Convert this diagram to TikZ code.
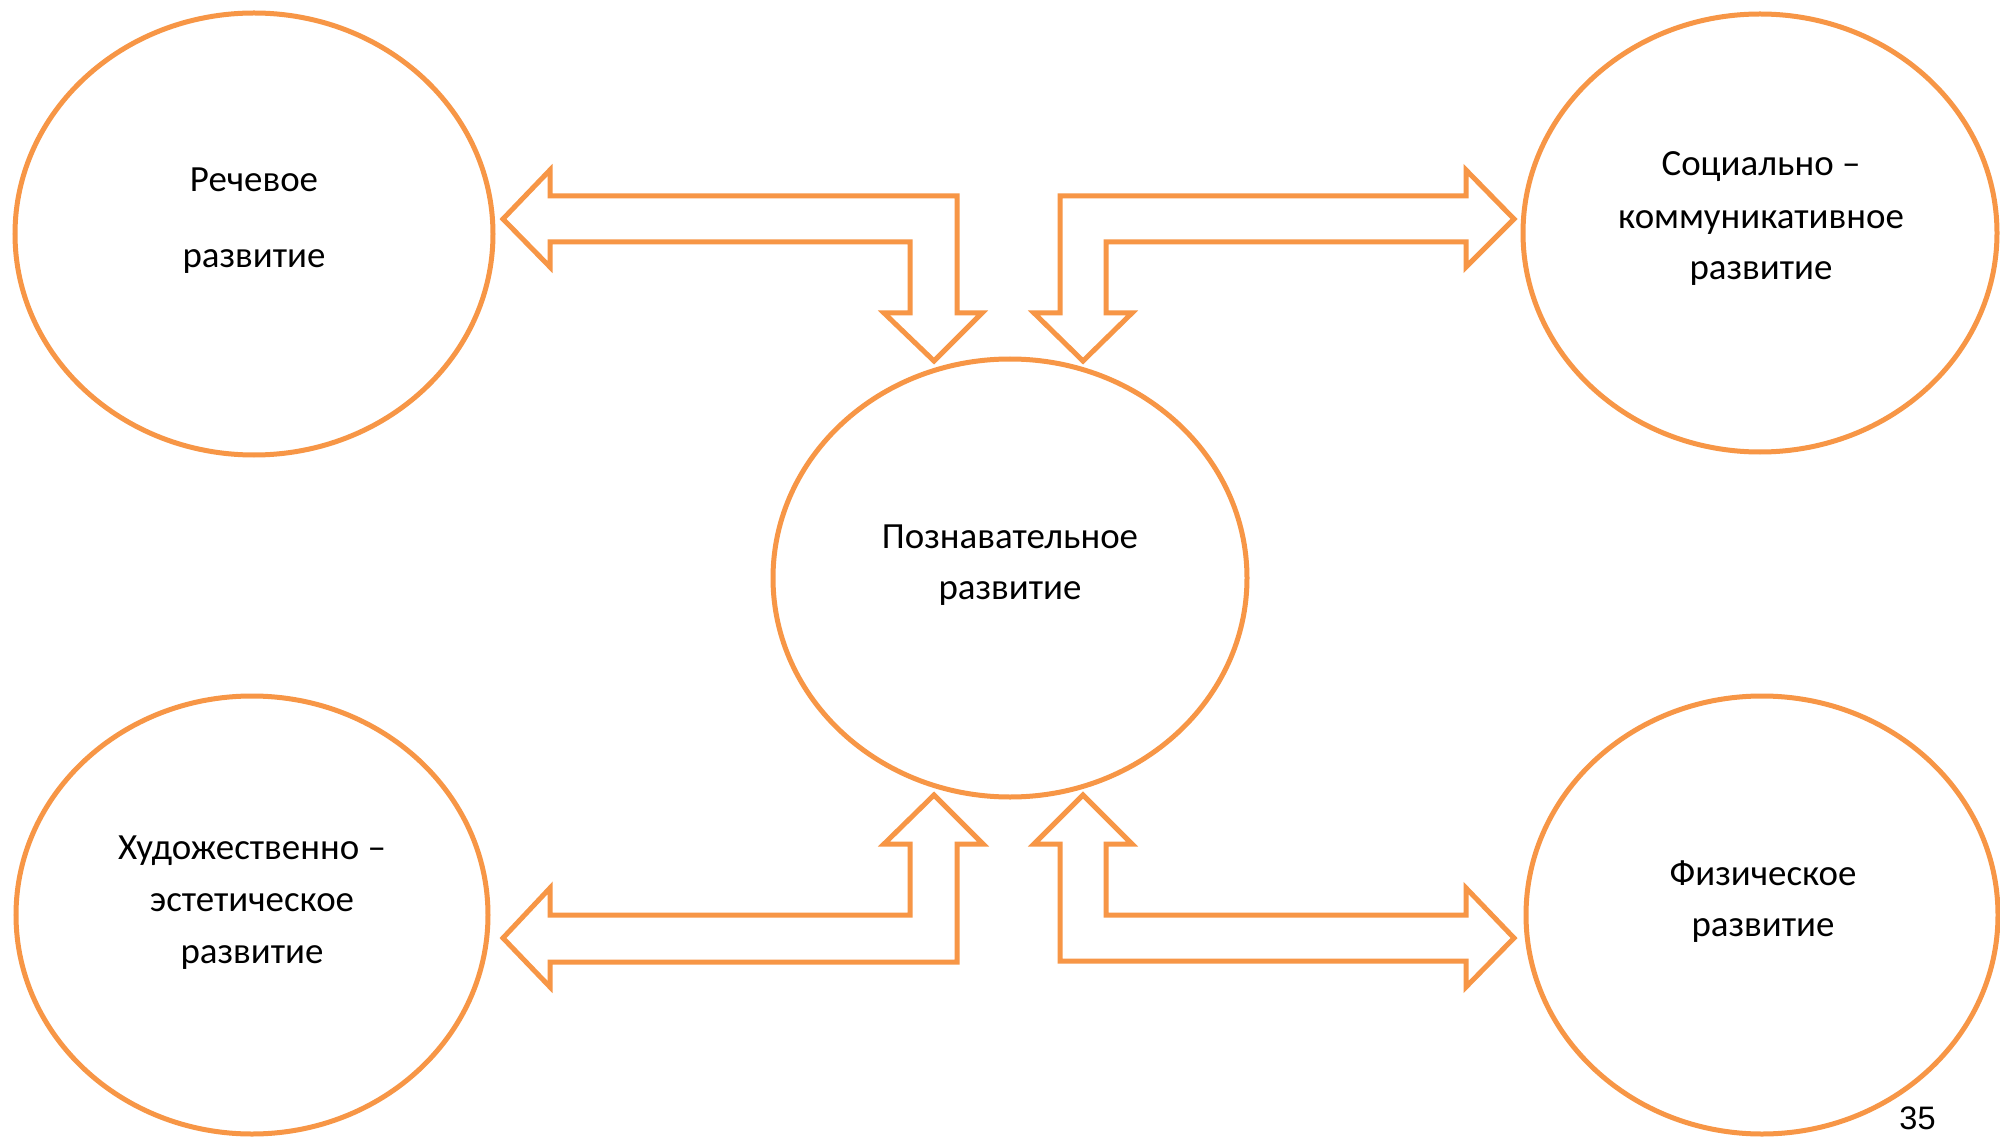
\documentclass[tikz,border=0pt]{standalone}
\usepackage{fontspec}
\setmainfont{Carlito}
\newfontfamily\numfont{Liberation Sans}
\usetikzlibrary{shapes.geometric}
\definecolor{accorange}{HTML}{F79646}
\begin{document}
\begin{tikzpicture}[x=0.4pt,y=-0.4pt,
  oval/.style={draw=accorange, line width=2pt, ellipse, inner sep=0pt, outer sep=0pt},
  blockarrow/.style={draw=accorange, line width=2pt, line join=miter, fill=white},
  lbl/.style={anchor=base, inner sep=0pt, font=\fontsize{14.76}{17}\selectfont}]
\useasboundingbox (0,0) rectangle (2000,1138);
\fill[white] (0,0) rectangle (2000,1138);
% ovals
\node[oval, minimum width=478*0.4pt, minimum height=442*0.4pt] (rech) at (254,234) {};
\node[oval, minimum width=474*0.4pt, minimum height=438*0.4pt] (soc) at (1760,233) {};
\node[oval, minimum width=474*0.4pt, minimum height=438*0.4pt] (pozn) at (1010,578) {};
\node[oval, minimum width=472*0.4pt, minimum height=438*0.4pt] (hud) at (252,915) {};
\node[oval, minimum width=472*0.4pt, minimum height=438*0.4pt] (fiz) at (1762,915) {};
% labels
\node[lbl] (rech1) at (254,191.7) {Речевое};
\node[lbl] (rech2) at (254,268) {развитие};
\node[lbl] (soc1) at (1761,176) {Социально –};
\node[lbl] (soc2) at (1761,228.3) {коммуникативное};
\node[lbl] (soc3) at (1761,279.3) {развитие};
\node[lbl] (pozn1) at (1010,548.3) {Познавательное};
\node[lbl] (pozn2) at (1010,599.3) {развитие};
\node[lbl] (hud1) at (252,859.3) {Художественно –};
\node[lbl] (hud2) at (252,911.7) {эстетическое};
\node[lbl] (hud3) at (252,963.3) {развитие};
\node[lbl] (fiz1) at (1763,885) {Физическое};
\node[lbl] (fiz2) at (1763,936.7) {развитие};
% block arrows
\draw[blockarrow] (550,196) -- (957,196) -- (957,313) -- (982,313) -- (934,361) -- (884,313)
  -- (910,313) -- (910,242) -- (550,242) -- (550,267) -- (503,219) -- (550,170) -- cycle;
\draw[blockarrow] (1060,196) -- (1466,196) -- (1466,170) -- (1514,219) -- (1466,267) -- (1466,242)
  -- (1106,242) -- (1106,313) -- (1132,313) -- (1083,361) -- (1034,313) -- (1060,313) -- cycle;
\draw[blockarrow] (934,795) -- (983,844) -- (957,844) -- (957,962) -- (550,962) -- (550,987)
  -- (503,938) -- (550,888) -- (550,915) -- (910,915) -- (910,844) -- (884,844) -- cycle;
\draw[blockarrow] (1083,795) -- (1132,844) -- (1106,844) -- (1106,915) -- (1466,915) -- (1466,888)
  -- (1514,938) -- (1466,987) -- (1466,961) -- (1060,961) -- (1060,844) -- (1034,844) -- cycle;
% page number
\node[anchor=base, inner sep=0pt, font=\numfont\fontsize{13}{15}\selectfont] (pnum) at (1917.5,1129) {35};
\end{tikzpicture}
\end{document}
